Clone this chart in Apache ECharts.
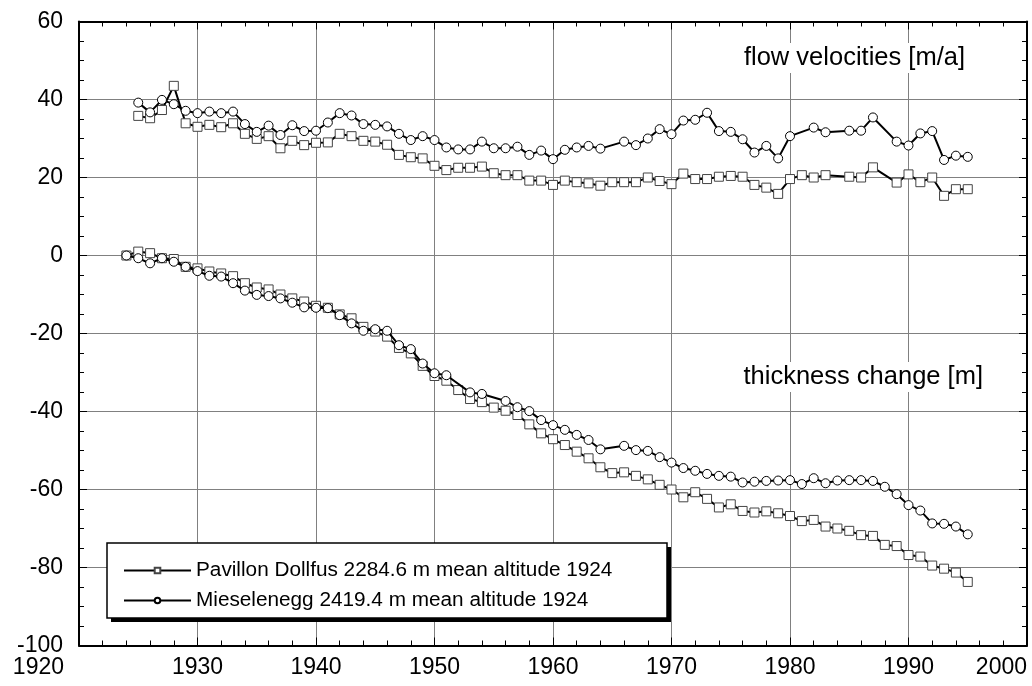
<!DOCTYPE html>
<html>
<head>
<meta charset="utf-8">
<script src="https://cdn.jsdelivr.net/npm/echarts@6/dist/echarts.min.js"></script>
<style>
  html, body { margin: 0; padding: 0; background: #fff; }
  #chart { width: 1032px; height: 686px; }
</style>
</head>
<body>
<div id="chart"></div>
<script>
// names of the two sites
var namePD = 'Pavillon Dollfus 2284.6 m mean altitude 1924';
var nameMS = 'Mieselenegg 2419.4 m mean altitude 1924';

// flow velocities [m/a], Pavillon Dollfus (1925-1995, no 1984, 1988)
var velPDYears = [1925,1926,1927,1928,1929,1930,1931,1932,1933,1934,1935,1936,1937,1938,1939,1940,1941,1942,1943,1944,1945,1946,1947,1948,1949,1950,1951,1952,1953,1954,1955,1956,1957,1958,1959,1960,1961,1962,1963,1964,1965,1966,1967,1968,1969,1970,1971,1972,1973,1974,1975,1976,1977,1978,1979,1980,1981,1982,1983,1985,1986,1987,1989,1990,1991,1992,1993,1994,1995];
var velPD = [35.8,35.2,37.3,43.5,33.9,33.0,33.5,32.9,33.9,31.2,29.9,30.6,27.5,29.4,28.3,28.9,29.0,31.2,30.6,29.4,29.2,28.4,25.8,25.2,24.9,23.0,21.9,22.5,22.5,22.8,21.1,20.6,20.6,19.2,19.2,18.1,19.2,18.8,18.5,17.9,18.8,18.8,18.8,20.0,19.1,18.3,21.0,19.6,19.6,20.2,20.4,20.2,18.1,17.4,15.8,19.6,20.6,20.0,20.6,20.2,20.0,22.6,18.7,20.8,18.8,20.0,15.3,17.0,17.0];

// flow velocities [m/a], Mieselenegg (1925-1995, no 1965, 1981, 1984, 1988)
var velMSYears = [1925,1926,1927,1928,1929,1930,1931,1932,1933,1934,1935,1936,1937,1938,1939,1940,1941,1942,1943,1944,1945,1946,1947,1948,1949,1950,1951,1952,1953,1954,1955,1956,1957,1958,1959,1960,1961,1962,1963,1964,1966,1967,1968,1969,1970,1971,1972,1973,1974,1975,1976,1977,1978,1979,1980,1982,1983,1985,1986,1987,1989,1990,1991,1992,1993,1994,1995];
var velMS = [39.2,36.7,39.9,38.8,37.1,36.5,36.9,36.5,36.9,33.7,31.7,33.3,30.9,33.4,31.9,32.0,34.1,36.5,35.9,33.7,33.5,33.1,31.2,29.6,30.6,29.6,27.7,27.2,27.2,29.2,27.5,27.5,27.9,25.8,26.9,24.7,27.1,27.7,28.1,27.4,29.2,28.3,30.0,32.4,31.1,34.6,34.8,36.6,31.9,31.7,29.8,26.4,28.1,24.9,30.6,32.8,31.6,32.0,32.0,35.4,29.2,28.2,31.3,31.9,24.5,25.6,25.3];

// thickness change [m], Pavillon Dollfus (1924-1995)
var thkPDYears = [1924,1925,1926,1927,1928,1929,1930,1931,1932,1933,1934,1935,1936,1937,1938,1939,1940,1941,1942,1943,1944,1945,1946,1947,1948,1949,1950,1951,1952,1953,1954,1955,1956,1957,1958,1959,1960,1961,1962,1963,1964,1965,1966,1967,1968,1969,1970,1971,1972,1973,1974,1975,1976,1977,1978,1979,1980,1981,1982,1983,1984,1985,1986,1987,1988,1989,1990,1991,1992,1993,1994,1995];
var thkPD = [0,1.0,0.6,-0.7,-0.9,-2.9,-3.3,-4.1,-4.6,-5.3,-7.1,-8.2,-8.7,-10.0,-11.0,-11.8,-12.9,-13.4,-15.1,-16.1,-18.3,-19.5,-20.8,-23.7,-25.1,-28.3,-30.9,-32.1,-34.5,-36.8,-37.6,-39.0,-39.8,-40.9,-43.3,-45.6,-47.1,-48.6,-50.3,-52.0,-54.3,-55.8,-55.6,-56.5,-57.4,-58.8,-60.0,-62.0,-60.7,-62.4,-64.6,-63.8,-65.5,-65.9,-65.6,-66.1,-66.8,-68.1,-67.8,-69.5,-70.0,-70.6,-71.7,-71.9,-74.2,-74.5,-76.8,-77.2,-79.5,-80.3,-81.3,-83.7];

// thickness change [m], Mieselenegg (1924-1995, no 1952, 1955, 1965)
var thkMSYears = [1924,1925,1926,1927,1928,1929,1930,1931,1932,1933,1934,1935,1936,1937,1938,1939,1940,1941,1942,1943,1944,1945,1946,1947,1948,1949,1950,1951,1953,1954,1956,1957,1958,1959,1960,1961,1962,1963,1964,1966,1967,1968,1969,1970,1971,1972,1973,1974,1975,1976,1977,1978,1979,1980,1981,1982,1983,1984,1985,1986,1987,1988,1989,1990,1991,1992,1993,1994,1995];
var thkMS = [0,-0.7,-2.0,-0.7,-1.6,-2.9,-4.0,-5.2,-5.4,-7.1,-9.0,-10.1,-10.4,-11.0,-12.1,-13.3,-13.4,-13.5,-15.3,-17.4,-19.3,-18.9,-19.3,-23.0,-24.0,-27.7,-30.2,-30.7,-35.1,-35.5,-37.3,-38.9,-39.9,-42.2,-43.5,-44.7,-46.0,-47.3,-49.7,-48.8,-49.9,-50.1,-51.7,-53.1,-54.5,-55.2,-56.0,-56.5,-56.7,-58.2,-58.0,-57.8,-57.7,-57.6,-58.6,-57.1,-58.4,-57.7,-57.6,-57.6,-57.8,-59.3,-61.2,-64.0,-65.4,-68.7,-68.8,-69.5,-71.5];

function pairs(xs, ys) {
  return xs.map(function (x, i) { return [x, ys[i]]; });
}

var font = 'Liberation Sans, Arial, sans-serif';

var myChart = echarts.init(document.getElementById('chart'));

var squareStyle = {
  type: 'line',
  name: namePD,
  symbol: 'rect',
  symbolSize: 9,
  itemStyle: { color: '#fff', borderColor: '#444', borderWidth: 1 },
  lineStyle: { color: '#000', width: 2 },
  emphasis: { disabled: true },
  z: 3
};
var circleStyle = {
  type: 'line',
  name: nameMS,
  symbol: 'circle',
  symbolSize: 9,
  itemStyle: { color: '#fff', borderColor: '#000', borderWidth: 1 },
  lineStyle: { color: '#000', width: 2 },
  emphasis: { disabled: true },
  z: 4
};

function xAxisCfg(pos, labels) {
  return {
    type: 'value',
    position: pos,
    min: 1920,
    max: 2000,
    interval: 10,
    axisLine: { show: true, onZero: false, lineStyle: { color: '#000', width: 2 } },
    axisTick: { show: true, inside: true, length: 8, lineStyle: { color: '#000' } },
    minorTick: { show: true, splitNumber: 5, length: 5, lineStyle: { color: '#000' } },
    splitLine: { show: labels, lineStyle: { color: '#808080', width: 1 } },
    axisLabel: {
      show: labels,
      color: '#000',
      fontFamily: font,
      fontSize: 23,
      margin: 11,
      alignMinLabel: 'right',
      alignMaxLabel: 'right',
      formatter: function (v) { return v === 1920 ? '{a|' + v + '}' : String(v); },
      rich: { a: { fontFamily: font, fontSize: 23, color: '#000', padding: [0, 15, 0, 0] } }
    }
  };
}

function yAxisCfg(pos, labels) {
  return {
    type: 'value',
    position: pos,
    min: -100,
    max: 60,
    interval: 20,
    axisLine: { show: true, onZero: false, lineStyle: { color: '#000', width: 2 } },
    axisTick: { show: true, inside: true, length: 8, lineStyle: { color: '#000' } },
    minorTick: { show: true, splitNumber: 4, length: 5, lineStyle: { color: '#000' } },
    splitLine: { show: labels, lineStyle: { color: '#808080', width: 1 } },
    axisLabel: { show: labels, color: '#000', fontFamily: font, fontSize: 23, margin: 16 }
  };
}

var option = {
  backgroundColor: '#fff',
  animation: false,
  grid: { left: 79, right: 5, top: 21.5, bottom: 40.5, containLabel: false },
  xAxis: [xAxisCfg('bottom', true), xAxisCfg('top', false)],
  yAxis: [yAxisCfg('left', true), yAxisCfg('right', false)],
  legend: {
    orient: 'vertical',
    left: 107,
    top: 543,
    z: 10,
    data: [namePD, nameMS],
    itemWidth: 67,
    itemHeight: 7,
    itemGap: 9,
    padding: [17, 50, 8, 16],
    selectedMode: false,
    textStyle: { color: '#000', fontFamily: font, fontSize: 20.75, lineHeight: 20 }
  },
  graphic: [
    // legend frame with drop shadow
    {
      type: 'rect',
      z: 5,
      shape: { x: 111, y: 547, width: 560, height: 75 },
      style: { fill: '#000' }
    },
    {
      type: 'rect',
      z: 6,
      shape: { x: 107, y: 543, width: 560, height: 75 },
      style: { fill: '#fff', stroke: '#000', lineWidth: 1.5 }
    },
    {
      type: 'text',
      x: 969, y: 58,
      z: 10,
      style: {
        text: 'flow velocities [m/a]',
        font: '25.5px ' + font,
        fill: '#000',
        align: 'right',
        verticalAlign: 'middle',
        backgroundColor: '#fff',
        padding: [2, 4]
      }
    },
    {
      type: 'text',
      x: 987, y: 377,
      z: 10,
      style: {
        text: 'thickness change [m]',
        font: '25.5px ' + font,
        fill: '#000',
        align: 'right',
        verticalAlign: 'middle',
        backgroundColor: '#fff',
        padding: [2, 4]
      }
    }
  ],
  series: [
    Object.assign({}, squareStyle, { data: pairs(velPDYears, velPD) }),
    Object.assign({}, circleStyle, { data: pairs(velMSYears, velMS) }),
    Object.assign({}, squareStyle, { data: pairs(thkPDYears, thkPD) }),
    Object.assign({}, circleStyle, { data: pairs(thkMSYears, thkMS) })
  ]
};

myChart.setOption(option);
</script>
</body>
</html>
